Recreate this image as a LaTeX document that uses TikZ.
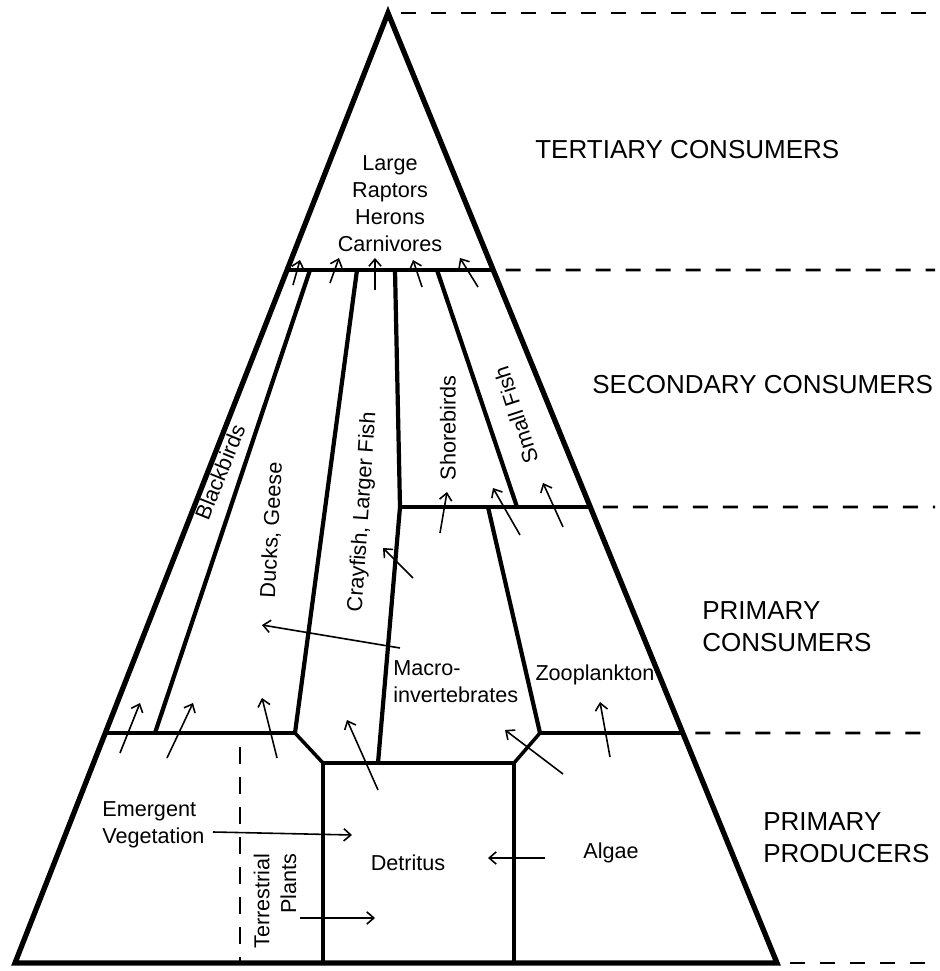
\documentclass[tikz,border=0pt]{standalone}
\usepackage{fontspec}
\setmainfont{Liberation Sans}
\usepackage{tikz}
\usetikzlibrary{arrows.meta,positioning,calc}

\begin{document}
\begin{tikzpicture}[>={Straight Barb[length=4pt,width=7pt]},
    edge/.style={line width=3pt, line join=miter},
    wall/.style={line width=2.4pt},
    level/.style={line width=2pt},
    guide/.style={line width=1.6pt, dash pattern=on 0.3cm off 0.3cm},
    flow/.style={->, line width=0.9pt},
    lbl/.style={font=\fontsize{12.3}{15.3}\selectfont, inner sep=0pt},
    tier/.style={font=\fontsize{14.8}{18.5}\selectfont, inner sep=0pt, align=left, anchor=west}]
        \useasboundingbox (0,0) rectangle (18.8,19.42);

        % pyramid corners
        \coordinate (apex) at (7.76,19.16);
        \coordinate (bl) at (0.30,0.16);
        \coordinate (br) at (15.54,0.16);
        % where the level lines meet the sides
        \coordinate (l1) at ($(apex)!0.2705!(bl)$);
        \coordinate (r1) at ($(apex)!0.2705!(br)$);
        \coordinate (r2) at ($(apex)!0.52!(br)$);
        \coordinate (l3) at ($(apex)!0.7579!(bl)$);
        \coordinate (r3) at ($(apex)!0.7579!(br)$);

        % pyramid outline
        \draw[edge] (apex) -- (bl) -- (br) -- cycle;

        % level lines
        \draw[level] (l1) -- (r1);
        \draw[level] (8.00,9.28) -- (r2);
        \draw[level] (l3) -- (5.90,4.76) -- (6.46,4.16) -- (10.28,4.16) -- (10.80,4.76) -- (r3);

        % strip walls
        \draw[wall] (6.20,14.02) -- (3.10,4.76);
        \draw[wall] (7.14,14.02) -- (5.90,4.76);
        \draw[wall] (7.90,14.02) -- (8.00,9.28) -- (7.56,4.16);
        \draw[wall] (8.74,14.02) -- (10.34,9.28);
        \draw[wall] (9.76,9.28) -- (10.80,4.76);
        \draw[wall] (6.46,4.16) -- (6.46,0.16);
        \draw[wall] (10.28,4.16) -- (10.28,0.16);

        % terrestrial border
        \draw[line width=1.2pt, dash pattern=on 0.34cm off 0.26cm] (4.80,4.48) -- (4.80,0.16);

        % dashed guides to the tier names
        \draw[guide] ($(apex)+(0.25,0)$) -- (18.70,19.16);
        \draw[guide] ($(r1)+(0.25,0)$) -- (18.70,14.02);
        \draw[guide] ($(r2)+(0.25,0)$) -- (18.70,9.28);
        \draw[guide] ($(r3)+(0.25,0)$) -- (18.70,4.76);
        \draw[guide] ($(br)+(0.25,0)$) -- (18.70,0.16);

        % tier names
        \node[tier] (tert) at (10.70,16.42) {TERTIARY CONSUMERS};
        \node[tier] (sec) at (11.84,11.72) {SECONDARY CONSUMERS};
        \node[tier] (prim) at (14.04,6.89) {PRIMARY\\CONSUMERS};
        \node[tier] (prod) at (15.26,2.67) {PRIMARY\\PRODUCERS};

        % groups
        \node[lbl, align=center] (top) at (7.80,15.35) {Large\\Raptors\\Herons\\Carnivores};
        \node[lbl, rotate=68] (black) at (4.40,9.98) {Blackbirds};
        \node[lbl, rotate=87] (ducks) at (5.44,8.82) {Ducks, Geese};
        \node[lbl, rotate=86] (cray) at (7.26,9.18) {Crayfish, Larger Fish};
        \node[lbl, rotate=90] (shore) at (8.96,10.86) {Shorebirds};
        \node[lbl, rotate=108] (small) at (10.32,11.12) {Small Fish};
        \node[lbl, align=left, anchor=west] (macro) at (7.86,5.79) {Macro-\\invertebrates};
        \node[lbl] (zoo) at (11.90,5.92) {Zooplankton};
        \node[lbl, align=left, anchor=west] (emerg) at (2.04,2.93) {Emergent\\Vegetation};
        \node[lbl, rotate=90, align=right] (terr) at (5.50,1.40) {Terrestrial\\Plants};
        \node[lbl] (detr) at (8.16,2.16) {Detritus};
        \node[lbl] (algae) at (12.22,2.36) {Algae};

        % energy flow arrows
        \foreach \n/\tx/\ty/\hx/\hy in {
            1/5.86/13.72/6.00/14.22, 2/6.60/13.76/6.78/14.26,
            3/7.50/13.62/7.50/14.26, 4/8.44/13.68/8.26/14.22,
            5/9.56/13.68/9.20/14.26, 6/8.80/8.76/8.94/9.58,
            7/10.40/8.72/9.86/9.66, 8/11.26/8.88/10.86/9.76,
            9/8.26/7.86/7.66/8.46, 10/8.00/6.46/5.24/6.92,
            11/2.40/4.36/2.80/5.36, 12/3.34/4.26/3.86/5.36,
            13/5.54/4.26/5.24/5.46, 14/7.56/3.62/6.94/5.02,
            15/11.26/3.94/10.10/4.82, 16/12.20/4.28/12.00/5.38,
            17/4.26/2.78/7.04/2.72, 18/6.00/1.06/7.50/1.06,
            19/10.90/2.26/9.76/2.26}{
            \coordinate (t\n) at (\tx,\ty);
            \coordinate (h\n) at (\hx,\hy);
            \draw[flow] (t\n) -- (h\n);
        }
\end{tikzpicture}
\end{document}
